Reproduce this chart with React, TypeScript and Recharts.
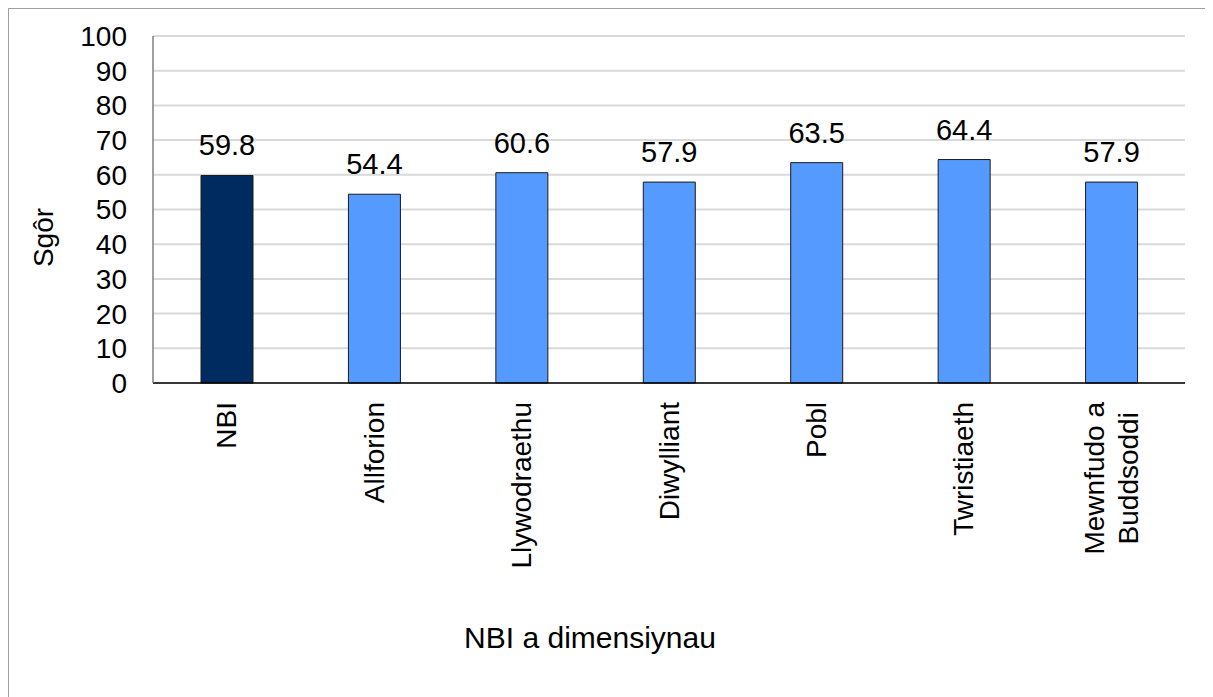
import React from 'react';
import { BarChart, Bar, XAxis, YAxis, CartesianGrid, LabelList, Cell, Label } from 'recharts';

const categories = ['NBI', 'Allforion', 'Llywodraethu', 'Diwylliant', 'Pobl', 'Twristiaeth', 'Mewnfudo a\nBuddsoddi'];
const scores = [59.8, 54.4, 60.6, 57.9, 63.5, 64.4, 57.9];
const yTicks = [0, 10, 20, 30, 40, 50, 60, 70, 80, 90, 100];
const highlightCategory = 'NBI';
const yAxisTitle = 'Sgôr';
const xAxisTitle = 'NBI a dimensiynau';

const data = categories.map((c, i) => ({ category: c, score: scores[i] }));

const FONT = '"Liberation Sans", Arial, sans-serif';
const DARK = '#002B61';
const LIGHT = '#559BFF';

let ctx: CanvasRenderingContext2D | null = null;
function measure(text: string, size: number): number {
  if (!ctx) {
    const c = document.createElement('canvas');
    ctx = c.getContext('2d');
  }
  if (!ctx) return text.length * size * 0.55;
  ctx.font = `${size}px "Liberation Sans", Arial, sans-serif`;
  return ctx.measureText(text).width;
}

const CategoryTick = (props: any) => {
  const { x, y, payload } = props;
  const lines: string[] = String(payload.value).split('\n');
  const size = 28;
  const lh = 34;
  const widths = lines.map((l) => measure(l, size));
  const maxW = Math.max(...widths);
  const n = lines.length;
  return (
    <g transform={`translate(${x},${y}) rotate(-90)`}>
      {lines.map((l, i) => (
        <text
          key={i}
          x={-maxW / 2}
          y={(i - (n - 1) / 2) * lh}
          textAnchor="middle"
          dominantBaseline="central"
          fontSize={size}
          fontFamily={FONT}
          fill="#000"
        >
          {l}
        </text>
      ))}
    </g>
  );
};

export default function App() {
  return (
    <div
      style={{
        width: 1204,
        height: 700,
        border: '1px solid #a0a0a0',
        boxSizing: 'border-box',
        background: '#fff',
        fontFamily: FONT,
      }}
    >
      <BarChart
        width={1202}
        height={698}
        data={data}
        margin={{ top: 27, right: 26, left: 0, bottom: 0 }}
      >
        <CartesianGrid horizontal vertical={false} stroke="#d9d9d9" strokeWidth={2} />
        <XAxis
          dataKey="category"
          height={324}
          interval={0}
          axisLine={{ stroke: '#000', strokeWidth: 1.5 }}
          tickLine={false}
          tickSize={0}
          tickMargin={19}
          tick={<CategoryTick />}
        >
          <Label
            content={(p: any) => {
              const vb = p.viewBox || { x: 144, y: 374, width: 1032 };
              return (
                <text
                  x={vb.x + 437}
                  y={639}
                  textAnchor="middle"
                  fontSize={30}
                  fontFamily={FONT}
                  fill="#000"
                >
                  {xAxisTitle}
                </text>
              );
            }}
          />
        </XAxis>
        <YAxis
          width={144}
          domain={[0, 100]}
          ticks={yTicks}
          interval={0}
          axisLine={{ stroke: '#7f7f7f', strokeWidth: 1.5 }}
          tickLine={false}
          tickSize={0}
          tickMargin={26}
          tick={{ fontSize: 28, fill: '#000', fontFamily: FONT }}
        >
          <Label
            content={(p: any) => {
              const vb = p.viewBox || { x: 0, y: 27, height: 347 };
              const cx = vb.x + 34;
              const cy = vb.y + vb.height / 2 + 28;
              return (
                <text
                  x={cx}
                  y={cy}
                  transform={`rotate(-90, ${cx}, ${cy})`}
                  textAnchor="middle"
                  dominantBaseline="central"
                  fontSize={28}
                  fontFamily={FONT}
                  fill="#000"
                >
                  {yAxisTitle}
                </text>
              );
            }}
          />
        </YAxis>
        <Bar dataKey="score" barSize={52} stroke="#1a1a1a" strokeWidth={1} isAnimationActive={false}>
          {data.map((d) => (
            <Cell key={d.category} fill={d.category === highlightCategory ? DARK : LIGHT} />
          ))}
          <LabelList
            dataKey="score"
            position="top"
            offset={20}
            formatter={(v: any) => Number(v).toFixed(1)}
            style={{ fontSize: 29, fill: '#000', fontFamily: FONT }}
          />
        </Bar>
      </BarChart>
    </div>
  );
}
